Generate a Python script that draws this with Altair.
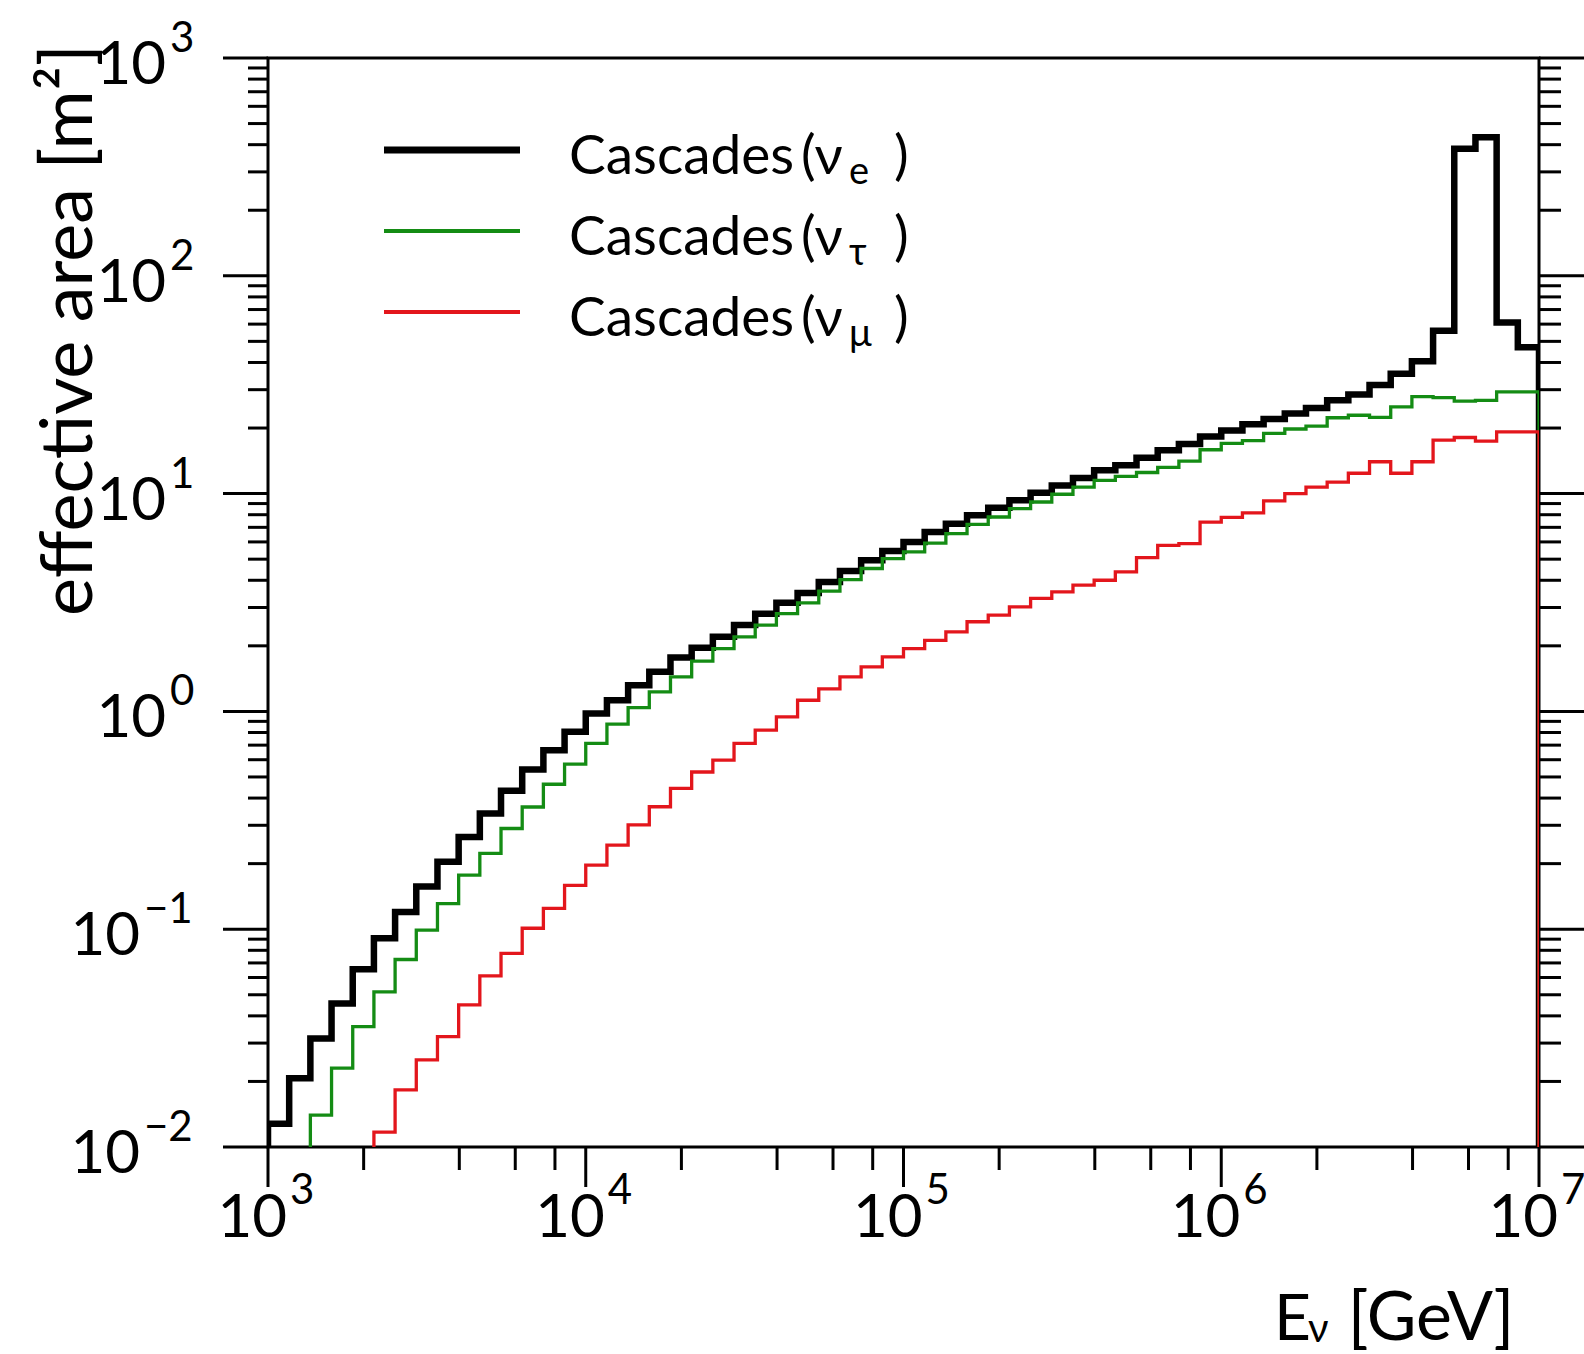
import altair as alt
import pandas as pd

# ---------------- data ----------------
bins_per_decade = 15
log_e_min, log_e_max = 3, 7
n_bins = (log_e_max - log_e_min) * bins_per_decade
edges = [10 ** (log_e_min + i / bins_per_decade) for i in range(n_bins + 1)]

# effective area per bin [m^2]
nue = [0.0128, 0.0207, 0.0315, 0.0456, 0.0654, 0.0908, 0.120, 0.157, 0.204, 0.265,
       0.34, 0.432, 0.541, 0.664, 0.806, 0.977, 1.125, 1.318, 1.52, 1.77,
       1.96, 2.20, 2.49, 2.81, 3.15, 3.50, 3.93, 4.41, 4.94, 5.45,
       6.0, 6.67, 7.28, 7.95, 8.62, 9.31, 10.1, 10.9, 11.8, 12.8,
       13.5, 14.6, 15.8, 16.9, 18.3, 19.5, 20.8, 22.0, 23.3, 24.7,
       26.8, 28.5, 31.5, 35.5, 40.5, 56.0, 383.0, 433.0, 61.0, 47.0]
nutau = [0.0050, 0.0085, 0.0140, 0.023, 0.0357, 0.0516, 0.0726, 0.099, 0.131, 0.177,
         0.223, 0.290, 0.364, 0.463, 0.573, 0.713, 0.874, 1.04, 1.23, 1.44,
         1.70, 1.94, 2.20, 2.49, 2.81, 3.15, 3.57, 4.03, 4.53, 5.03,
         5.40, 5.93, 6.55, 7.22, 7.81, 8.54, 9.15, 9.93, 10.7, 11.5,
         12.0, 12.5, 13.2, 14.1, 15.9, 17.0, 17.5, 18.9, 19.8, 20.4,
         22.3, 22.9, 22.4, 25.0, 27.9, 27.6, 26.6, 26.8, 29.3, 29.3]
numu = [0.0015, 0.0024, 0.0037, 0.0052, 0.0076, 0.0117, 0.0183, 0.0251, 0.0321, 0.0449,
        0.061, 0.0774, 0.101, 0.1245, 0.159, 0.197, 0.243, 0.301, 0.365, 0.443,
        0.527, 0.597, 0.713, 0.821, 0.944, 1.125, 1.27, 1.44, 1.60, 1.78,
        1.94, 2.12, 2.32, 2.58, 2.77, 3.02, 3.30, 3.54, 3.80, 4.00,
        4.37, 5.08, 5.79, 5.89, 7.40, 7.77, 8.15, 9.25, 10.0, 10.7,
        11.3, 12.4, 14.0, 12.4, 14.0, 17.6, 18.1, 17.4, 19.2, 19.2]

series_values = [nue, nutau, numu]
series_subscripts = ["e", "τ", "μ"]
series_prefix = "Cascades"

x_major = [1e3, 1e4, 1e5, 1e6, 1e7]
x_major_exp = [3, 4, 5, 6, 7]
x_minor = [k * 10 ** e for e in range(3, 7) for k in (2, 4, 6, 8)]
y_major = [1e-2, 1e-1, 1e0, 1e1, 1e2, 1e3]
y_major_exp = [-2, -1, 0, 1, 2, 3]
y_minor = [k * 10 ** e for e in range(-2, 3) for k in range(2, 10)]

# ---------------- style ----------------
W, H = 1271, 1089
FONT = "Lato"
colors = ["#000000", "#148c14", "#e3161c"]
widths = [6.5, 3.3, 3.3]
FLOOR = 1e-4

xscale = alt.Scale(type="log", domain=[1e3, 1e7], nice=False)
yscale = alt.Scale(type="log", domain=[1e-2, 1e3], nice=False)


def step_frame(vals):
    rows = [{"E": edges[0], "A": FLOOR, "o": 0}]
    for i, v in enumerate(vals):
        rows.append({"E": edges[i], "A": v, "o": i + 1})
    rows.append({"E": edges[-1], "A": vals[-1], "o": len(vals) + 1})
    rows.append({"E": edges[-1], "A": FLOOR, "o": len(vals) + 2})
    return pd.DataFrame(rows)


layers = []
for vals, col, wd in zip(series_values, colors, widths):
    layers.append(
        alt.Chart(step_frame(vals)).mark_line(
            interpolate="step-after", clip=True, color=col, strokeWidth=wd,
            strokeJoin="miter", strokeCap="butt"
        ).encode(
            x=alt.X("E:Q", scale=xscale, axis=None),
            y=alt.Y("A:Q", scale=yscale, axis=None),
            order=alt.Order("o:Q"),
        )
    )

# ---- ticks ----
def yticks(vals, x0, x1):
    return alt.Chart(pd.DataFrame({"v": vals})).mark_rule(color="black", strokeWidth=3).encode(
        y=alt.Y("v:Q", scale=yscale, axis=None), x=alt.value(x0), x2=alt.value(x1))


def xticks(vals, y0, y1):
    return alt.Chart(pd.DataFrame({"v": vals})).mark_rule(color="black", strokeWidth=3).encode(
        x=alt.X("v:Q", scale=xscale, axis=None), y=alt.value(y0), y2=alt.value(y1))


layers += [
    yticks(y_major, -45, 0), yticks(y_minor, -20, 0),
    yticks(y_major, W, W + 45), yticks(y_minor, W, W + 22),
    xticks(x_major, H, H + 40), xticks(x_minor, H, H + 23),
]

# ---- tick labels ----
def exp_str(e):
    return ("−" + str(-e)) if e < 0 else str(e)


ylab = pd.DataFrame({"v": y_major, "base": ["10"] * len(y_major),
                     "exp": [exp_str(e) for e in y_major_exp],
                     "neg": [e < 0 for e in y_major_exp]})
BASE_FS, EXP_FS = 60, 42
for neg, xbase in ((False, -102), (True, -128)):
    sub = ylab[ylab["neg"] == neg]
    layers.append(alt.Chart(sub).mark_text(
        font=FONT, fontSize=BASE_FS, align="right", baseline="alphabetic", dy=26, color="black"
    ).encode(y=alt.Y("v:Q", scale=yscale, axis=None), x=alt.value(xbase), text="base:N"))
    layers.append(alt.Chart(sub).mark_text(
        font=FONT, fontSize=EXP_FS, align="left", baseline="alphabetic", dy=-6, color="black"
    ).encode(y=alt.Y("v:Q", scale=yscale, axis=None), x=alt.value(xbase + 4), text="exp:N"))

xlab = pd.DataFrame({"v": x_major, "base": ["10"] * len(x_major),
                     "exp": [exp_str(e) for e in x_major_exp]})
layers.append(alt.Chart(xlab).mark_text(
    font=FONT, fontSize=BASE_FS, align="right", baseline="alphabetic", dx=19, color="black"
).encode(x=alt.X("v:Q", scale=xscale, axis=None), y=alt.value(H + 90), text="base:N"))
layers.append(alt.Chart(xlab).mark_text(
    font=FONT, fontSize=EXP_FS, align="left", baseline="alphabetic", dx=22, color="black"
).encode(x=alt.X("v:Q", scale=xscale, axis=None), y=alt.value(H + 57), text="exp:N"))

# ---- axis titles ----
def label(txt, x, y, size, align="left", angle=0):
    return alt.Chart(pd.DataFrame({"t": [txt]})).mark_text(
        font=FONT, fontSize=size, align=align, baseline="alphabetic", angle=angle, color="black"
    ).encode(x=alt.value(x), y=alt.value(y), text="t:N")


layers.append(label("effective area [m²]", -176, 558, 72, angle=270))
layers.append(label("E", 1006, 1282, 64))
layers.append(label("ν", 1040, 1284, 40))
layers.append(label("[GeV]", 1163, 1282, 68, align="center"))

# ---- legend ----
leg_y0, leg_dy = 92, 81
for i, (col, wd, sub) in enumerate(zip(colors, widths, series_subscripts)):
    ly = leg_y0 + i * leg_dy
    layers.append(alt.Chart(pd.DataFrame({"a": [0]})).mark_rule(
        color=col, strokeWidth=wd + 0.5, strokeCap="butt").encode(
        x=alt.value(116), x2=alt.value(252), y=alt.value(ly)))
    layers.append(label(series_prefix, 301, ly + 24, 55))
    layers.append(label("(ν", 533, ly + 24, 55))
    layers.append(label(sub, 581, ly + 34, 38))
    layers.append(label(")", 626, ly + 24, 55))

chart = alt.layer(*layers).properties(
    width=W, height=H,
    padding={"left": 268, "top": 58, "right": 45, "bottom": 207},
    autosize=alt.AutoSizeParams(type="none"),
    background="white",
).configure_view(stroke="black", strokeWidth=3)

chart.save("out.html", embed_options={"renderer": "svg", "actions": False})
